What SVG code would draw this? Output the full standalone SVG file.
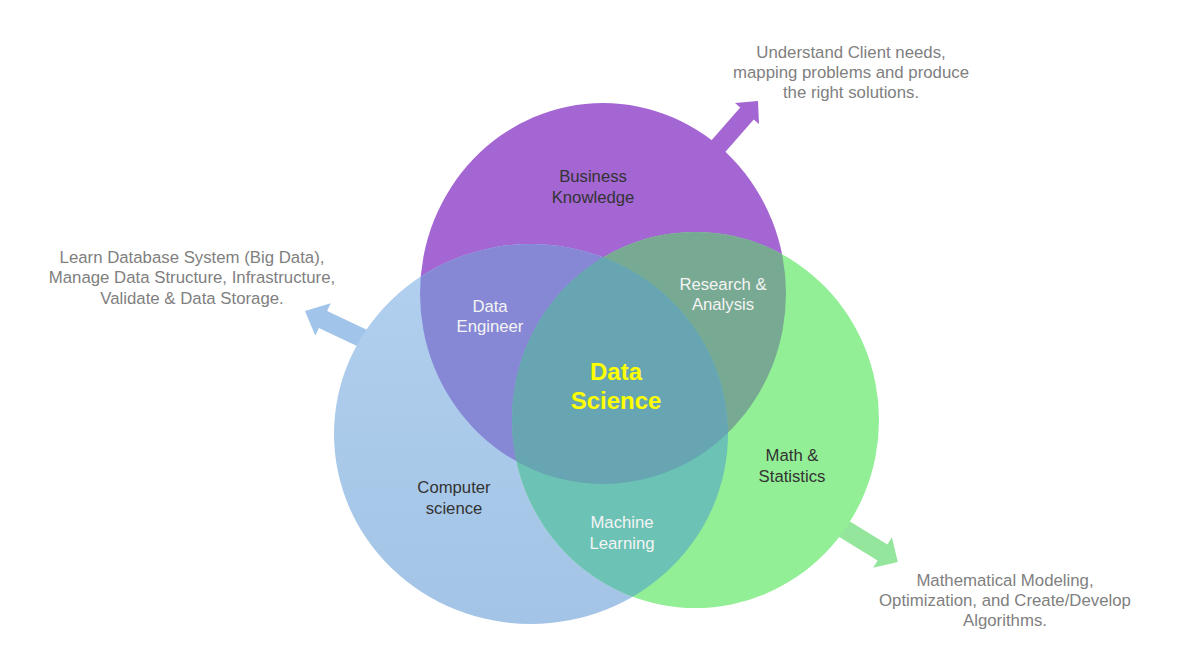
<svg xmlns="http://www.w3.org/2000/svg" width="1194" height="670" viewBox="0 0 1194 670">
<style>
.note{font-family:"Liberation Sans",Arial,sans-serif;font-size:16.8px;fill:#808080;text-anchor:middle}
.dark{font-family:"Liberation Sans",Arial,sans-serif;font-size:16.7px;fill:#333333;text-anchor:middle}
.light{font-family:"Liberation Sans",Arial,sans-serif;font-size:16.7px;fill:#f4f4f4;text-anchor:middle}
.core{font-family:"Liberation Sans",Arial,sans-serif;font-size:24px;font-weight:bold;fill:#ffff00;text-anchor:middle}
</style>
<defs>
<clipPath id="cpP"><ellipse cx="603" cy="293.5" rx="183" ry="190.5"/></clipPath>
<clipPath id="cpB"><ellipse cx="531" cy="434" rx="197" ry="190"/></clipPath>
<linearGradient id="gB" x1="0" y1="0" x2="0" y2="1">
<stop offset="0" stop-color="#b2d0ef"/><stop offset="1" stop-color="#a3c4e6"/>
</linearGradient>
</defs>
<rect width="1194" height="670" fill="#ffffff"/>
<g id="connectors">
<polygon points="707.75,171.94 753.75,119.44 759,124.06 758,101 735,102.94 740.25,107.56 694.25,160.06" fill="#a366d2"/>
<polygon points="381.1,336.45 327.1,310.95 330.7,303.3 305,310.9 315.3,335.7 318.9,328.05 372.9,353.55" fill="#a1c4ea"/>
<polygon points="827.94,507.93 887.44,544.43 891.86,537.2 897.8,561.9 873.14,567.8 877.56,560.58 818.06,524.08" fill="#95e69d"/>
</g>
<g id="business">
<ellipse cx="603" cy="293.5" rx="183" ry="190.5" fill="#a366d2"/>
</g>
<g id="computer">
<ellipse cx="531" cy="434" rx="197" ry="190" fill="url(#gB)"/>
</g>
<g id="math">
<ellipse cx="695.5" cy="420" rx="183.5" ry="188" fill="#92ef96"/>
</g>
<g id="overlaps">
<ellipse id="engineer-area" cx="531" cy="434" rx="197" ry="190" fill="#8688d6" clip-path="url(#cpP)"/>
<ellipse id="research-area" cx="695.5" cy="420" rx="183.5" ry="188" fill="#78a992" clip-path="url(#cpP)"/>
<ellipse id="ml-area" cx="695.5" cy="420" rx="183.5" ry="188" fill="#6cc2b4" clip-path="url(#cpB)"/>
<g clip-path="url(#cpB)"><ellipse id="core-area" cx="695.5" cy="420" rx="183.5" ry="188" fill="#66a5b1" clip-path="url(#cpP)"/></g>
</g>
<g id="labels">
<text class="dark" x="593" y="182">Business</text>
<text class="dark" x="593" y="203">Knowledge</text>
<text class="light" x="490" y="312">Data</text>
<text class="light" x="490" y="332">Engineer</text>
<text class="light" x="723" y="290">Research &amp;</text>
<text class="light" x="723" y="310">Analysis</text>
<text class="core" x="616" y="380">Data</text>
<text class="core" x="616" y="409">Science</text>
<text class="dark" x="454" y="493">Computer</text>
<text class="dark" x="454" y="514">science</text>
<text class="dark" x="792" y="461">Math &amp;</text>
<text class="dark" x="792" y="482">Statistics</text>
<text class="light" x="622" y="528">Machine</text>
<text class="light" x="622" y="549">Learning</text>
</g>
<g id="notes">
<text class="note" x="851" y="58">Understand Client needs,</text>
<text class="note" x="851" y="78">mapping problems and produce</text>
<text class="note" x="851" y="98">the right solutions.</text>
<text class="note" x="192" y="263">Learn Database System (Big Data),</text>
<text class="note" x="192" y="283">Manage Data Structure, Infrastructure,</text>
<text class="note" x="192" y="304">Validate &amp; Data Storage.</text>
<text class="note" x="1005" y="586">Mathematical Modeling,</text>
<text class="note" x="1005" y="606">Optimization, and Create/Develop</text>
<text class="note" x="1005" y="626">Algorithms.</text>
</g>
</svg>
